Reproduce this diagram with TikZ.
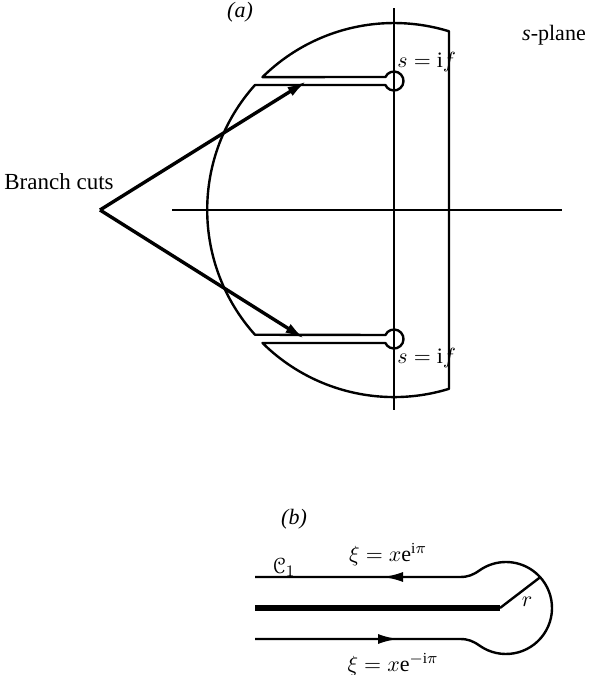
\documentclass[tikz,border=0pt]{standalone}
\usepackage{fontspec}
\setmainfont{Liberation Serif}
\usepackage{amsmath}
\usepackage[mathscr]{eucal}
\usetikzlibrary{arrows.meta,calc}

\begin{document}
\begin{tikzpicture}[
  x=0.5pt, y=0.5pt,
  font=\fontsize{11}{13}\selectfont,
  contour/.style={line width=1.2pt, line join=round},
  axis/.style={line width=1.1pt},
  arr/.style={-{Latex[length=10pt,width=5pt]}, line width=1.7pt},
  arrb/.style={-{Latex[length=10pt,width=5pt]}, line width=1.2pt},
  cut/.style={line width=2.8pt},
  lbl/.style={inner sep=1pt},
]
\useasboundingbox (0,0) rectangle (589,675);

% (a) s-plane, origin where the axes cross
\begin{scope}[shift={(394,465)}]
\coordinate (O) at (0,0);
\coordinate (bpU) at (0,129);
\coordinate (bpL) at (0,-129);
\coordinate (apex) at (-294,0);
\coordinate (tipU) at (-87,129);
\coordinate (tipL) at (-89,-129);
\draw[axis] (0,-200) -- (0,202);
\draw[axis] (-222,0) -- (168,0);
\draw[contour] (55,-178.7) -- (55,178.7)
  arc[start angle=72.9, end angle=134.7, radius=187]
  -- (-8.6,133) arc[start angle=155, end angle=-155, radius=9.5]
  -- (-139,125) arc[start angle=138.1, end angle=221.9, radius=187]
  -- (-8.6,-125) arc[start angle=155, end angle=-155, radius=9.5]
  -- (-131.5,-133) arc[start angle=225.3, end angle=287.1, radius=187]
  -- cycle;
\node[lbl] (la) at (-154,198) {\textit{(a)}};
\node[lbl] (sp) at (160,175) {\textit{s}-plane};
\node[lbl, anchor=west] (ifU) at (1,148) {$s=\mathrm{i}f$};
\node[lbl, anchor=west] (ifL) at (1,-148) {$s=\mathrm{i}f$};
\node[lbl, anchor=east, font=\fontsize{11.5}{13}\selectfont] (bc) at (-278,28) {Branch cuts};
\draw[arr] (apex) -- (tipU);
\draw[arr] (apex) -- (tipL);
\end{scope}

% (b) contour C_1 round the cut
\coordinate (uL) at (255,98);
\coordinate (uR) at (460,98);
\coordinate (lL) at (255,36);
\coordinate (lR) at (460,36);
\coordinate (ctr) at (506,67);
\coordinate (mL) at (255,67);
\coordinate (mR) at (500,67);
\coordinate (rim) at ($(ctr)+(42:46)$);
\coordinate (uTip) at (383,98);
\coordinate (lTip) at (398,36);
\draw[contour] (lL) -- (lR) to[out=0, in=145] ($(ctr)+(-125:46)$)
  arc[start angle=-125, end angle=125, radius=46]
  to[out=215, in=0] (uR) -- (uL);
\draw[arrb] (uR) -- (uTip);
\draw[arrb] (lL) -- (lTip);
\draw[cut] (mL) -- (mR);
\draw[contour] (mR) -- (rim);
\node[lbl] (lb) at (294,156) {\textit{(b)}};
\node[lbl] (c1) at (284,108) {$\mathscr{C}_1$};
\node[lbl] (xiU) at (388,120) {$\xi = x\mathrm{e}^{\mathrm{i}\pi}$};
\node[lbl] (xiL) at (393,10) {$\xi = x\mathrm{e}^{-\mathrm{i}\pi}$};
\node[lbl] (r) at (527,73) {$r$};
\end{tikzpicture}
\end{document}
